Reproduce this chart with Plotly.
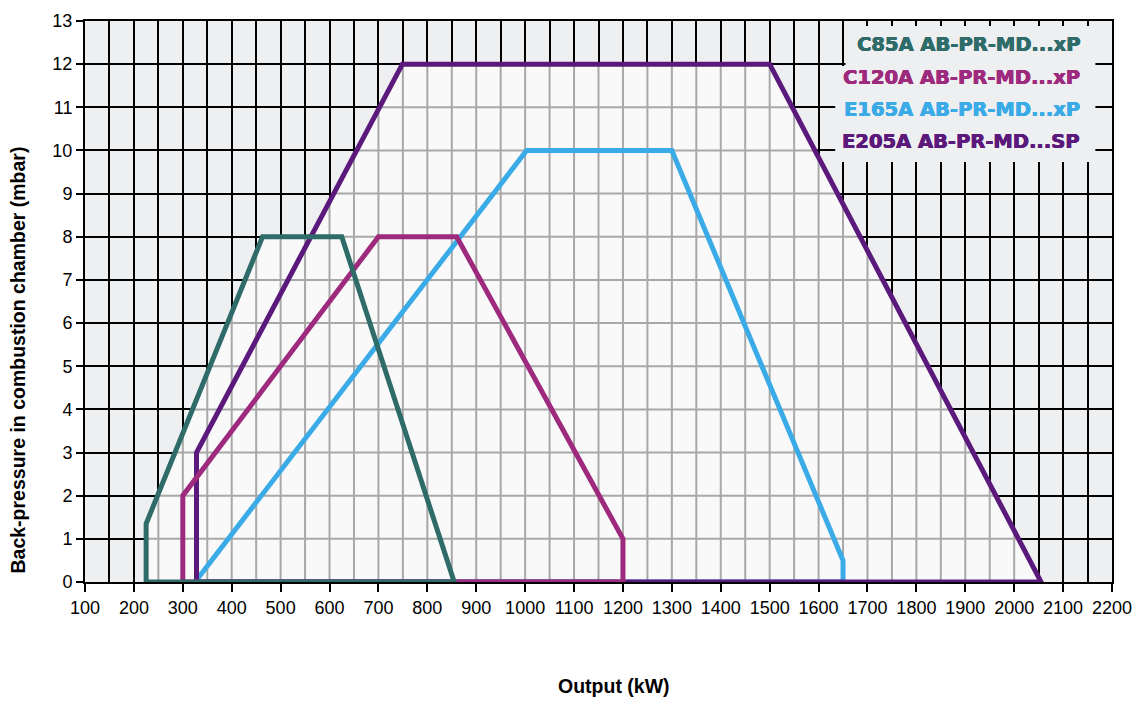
import numpy as np
import plotly.graph_objects as go

# Operating envelopes (output kW, back-pressure mbar), outline vertices in drawing order
burners = ["C85A AB-PR-MD...xP", "C120A AB-PR-MD...xP", "E165A AB-PR-MD...xP", "E205A AB-PR-MD...SP"]
colors = ["#2e6b69", "#9d2a7d", "#3aabe7", "#5b1a7b"]

c85_x = [225, 225, 463, 625, 855, 225]
c85_y = [0, 1.35, 8, 8, 0, 0]
c120_x = [300, 300, 700, 860, 1200, 1200, 300]
c120_y = [0, 2, 8, 8, 1, 0, 0]
e165_x = [325, 1003, 1300, 1650, 1650, 325]
e165_y = [0, 10, 10, 0.5, 0, 0]
e205_x = [328, 328, 749, 1500, 2055, 328]
e205_y = [0, 3, 12, 12, 0, 0]

series_x = [c85_x, c120_x, e165_x, e205_x]
series_y = [c85_y, c120_y, e165_y, e205_y]

x_ticks = list(range(100, 2201, 100))
y_ticks = list(range(0, 14))

BG_OUT = "#eeeff1"
BG_IN = "#f9f9fa"
GRID_IN = "#a8a8a8"

W, H = 1136, 709
ML, MR, MT, MB = 85, 24, 21, 127


def px_to_paper(px, py):
    return (px - ML) / (W - ML - MR), 1 - (py - MT) / (H - MT - MB)


fig = go.Figure()

# light fill of every envelope (covers the black grid)
for xs, ys in zip(series_x, series_y):
    fig.add_trace(go.Scatter(x=xs, y=ys, mode="lines", fill="toself", fillcolor=BG_IN,
                             line=dict(width=0, color=BG_IN), hoverinfo="skip", showlegend=False))

# upper envelope of the union of all areas, used to clip the grey grid
xs_fine = np.arange(100, 2200.001, 0.25)
top = np.full_like(xs_fine, -1.0)
for xs, ys in zip(series_x, series_y):
    ux, uy = np.array(xs[:-1], float), np.array(ys[:-1], float)
    inside = (xs_fine >= ux.min()) & (xs_fine <= ux.max())
    vals = np.interp(xs_fine, ux, uy)
    top = np.where(inside, np.maximum(top, vals), top)

gx, gy = [], []
for g in np.arange(150, 2200, 50):
    i = int(round((g - 100) / 0.25))
    if top[i] > 0:
        gx += [g, g, None]
        gy += [0, top[i], None]
for k in range(1, 13):
    mask = top >= k
    edges = np.diff(mask.astype(int))
    starts = list(np.where(edges == 1)[0] + 1)
    ends = list(np.where(edges == -1)[0])
    if mask[0]:
        starts = [0] + starts
    if mask[-1]:
        ends = ends + [len(mask) - 1]
    for s, e in zip(starts, ends):
        gx += [xs_fine[s], xs_fine[e], None]
        gy += [k, k, None]
fig.add_trace(go.Scatter(x=gx, y=gy, mode="lines", line=dict(color=GRID_IN, width=2),
                         hoverinfo="skip", showlegend=False))

# outlines: blue, purple, magenta, teal (teal on top)
for idx in [2, 3, 1, 0]:
    fig.add_trace(go.Scatter(x=series_x[idx], y=series_y[idx], mode="lines", name=burners[idx],
                             line=dict(color=colors[idx], width=5), showlegend=False))

# legend block background
fig.add_shape(type="rect", xref="x", yref="y", x0=1655, x1=2166, y0=11.9, y1=12.885,
              fillcolor=BG_OUT, line=dict(width=0), layer="above")
fig.add_shape(type="rect", xref="x", yref="y", x0=1634, x1=2166, y0=9.733, y1=11.96,
              fillcolor=BG_OUT, line=dict(width=0), layer="above")
legend_y = [12.45, 11.70, 10.95, 10.20]
for name, col, yy in zip(burners, colors, legend_y):
    heavy = f"0.5px 0px 0px {col}, -0.3px 0px 0px {col}, 0px 0.4px 0px {col}"
    fig.add_annotation(x=2138, y=yy, xref="x", yref="y", text="<b>" + name + "</b>", showarrow=False,
                       xanchor="right", yanchor="middle",
                       font=dict(family="DejaVu Sans", size=19.5, color=col, shadow=heavy))

# axis titles
tx, ty = px_to_paper(614, 686)
fig.add_annotation(x=tx, y=ty, xref="paper", yref="paper", text="<b>Output (kW)</b>", showarrow=False,
                   xanchor="center", yanchor="middle",
                   font=dict(family="Liberation Sans", size=19.5, color="black"))
tx, ty = px_to_paper(17.5, 360)
fig.add_annotation(x=tx, y=ty, xref="paper", yref="paper",
                   text="<b>Back-pressure in combustion chamber (mbar)</b>",
                   showarrow=False, textangle=-90, xanchor="center", yanchor="middle",
                   font=dict(family="Liberation Sans", size=19.5, color="black"))

fig.update_layout(
    width=W, height=H, margin=dict(l=ML, r=MR, t=MT, b=MB, autoexpand=False),
    paper_bgcolor="white", plot_bgcolor=BG_OUT,
    font=dict(family="Liberation Sans", size=18, color="black"),
    showlegend=False,
)
fig.update_xaxes(range=[100, 2200], tickvals=x_ticks, ticktext=[str(v) for v in x_ticks],
                 showgrid=True, gridcolor="black", gridwidth=2, automargin=False,
                 minor=dict(dtick=50, tick0=100, showgrid=True, gridcolor="black", gridwidth=2, ticks=""),
                 ticks="outside", ticklen=8, tickwidth=2, tickcolor="black",
                 showline=True, linecolor="black", linewidth=2, mirror=True,
                 zeroline=False, tickfont=dict(size=18))
fig.update_yaxes(range=[0, 13], tickvals=y_ticks, ticktext=[str(v) for v in y_ticks],
                 showgrid=True, gridcolor="black", gridwidth=2, automargin=False,
                 ticks="outside", ticklen=7, tickwidth=2, tickcolor="black",
                 showline=True, linecolor="black", linewidth=2, mirror=True,
                 zeroline=False, tickfont=dict(size=18))

fig.write_html("out.html")
